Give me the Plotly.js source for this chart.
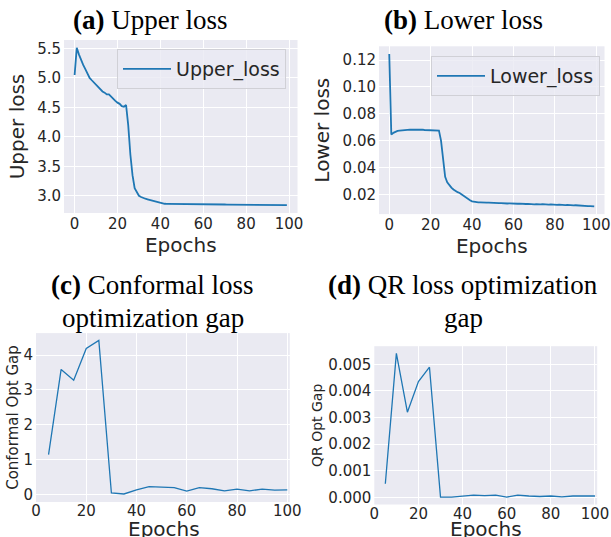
<!DOCTYPE html>
<html>
<head>
<meta charset="utf-8">
<script src="https://cdn.plot.ly/plotly-3.0.1.min.js"></script>
<style>html,body{margin:0;padding:0;background:#fff;}#chart{width:611px;height:537px;}</style>
</head>
<body>
<div id="chart"></div>
<script>
// ---- data ----
const epochs = [0,1,2,3,4,5,6,7,8,9,10,11,12,13,14,15,16,17,18,19,20,21,22,23,24,25,26,27,28,29,30,31,32,33,34,35,36,37,38,39,40,41,42,43,44,45,46,47,48,49,50,51,52,53,54,55,56,57,58,59,60,61,62,63,64,65,66,67,68,69,70,71,72,73,74,75,76,77,78,79,80,81,82,83,84,85,86,87,88,89,90,91,92,93,94,95,96,97,98,99];
const upperLoss = [5.05,5.51,5.40,5.30,5.22,5.15,5.07,5.00,4.96,4.92,4.88,4.84,4.81,4.77,4.75,4.72,4.72,4.68,4.64,4.61,4.58,4.56,4.52,4.51,4.54,4.20,3.70,3.35,3.13,3.05,3.00,2.98,2.96,2.95,2.94,2.93,2.92,2.91,2.90,2.89,2.88,2.87,2.865,2.864,2.864,2.863,2.863,2.862,2.862,2.861,2.861,2.860,2.860,2.859,2.859,2.858,2.858,2.857,2.857,2.856,2.856,2.855,2.855,2.855,2.854,2.854,2.853,2.853,2.853,2.852,2.852,2.851,2.851,2.851,2.850,2.850,2.850,2.849,2.849,2.849,2.848,2.848,2.848,2.847,2.847,2.847,2.846,2.846,2.846,2.845,2.845,2.845,2.844,2.844,2.844,2.843,2.843,2.842,2.842,2.841];
const lowerLoss = [0.1245,0.0645,0.0658,0.0666,0.0672,0.0675,0.0677,0.0678,0.0680,0.0681,0.0682,0.0681,0.0682,0.0681,0.0682,0.0680,0.0681,0.0679,0.0678,0.0677,0.0675,0.0676,0.0674,0.0675,0.0674,0.0600,0.0450,0.0330,0.0290,0.0268,0.0250,0.0236,0.0224,0.0216,0.0210,0.0198,0.0186,0.0176,0.0165,0.0156,0.0148,0.0144,0.0142,0.0140,0.0141,0.0139,0.0140,0.0138,0.0139,0.0137,0.0136,0.0137,0.0135,0.0134,0.0135,0.0133,0.0134,0.0132,0.0133,0.0131,0.0132,0.0131,0.0130,0.0131,0.0129,0.0130,0.0128,0.0129,0.0127,0.0128,0.0126,0.0127,0.0125,0.0126,0.0127,0.0125,0.0126,0.0124,0.0125,0.0123,0.0124,0.0122,0.0123,0.0121,0.0122,0.0120,0.0121,0.0119,0.0120,0.0118,0.0119,0.0117,0.0118,0.0115,0.0116,0.0114,0.0112,0.0113,0.0111,0.0110];
const gapEpochs = [5,10,15,20,25,30,35,40,45,50,55,60,65,70,75,80,85,90,95,100];
const conformalGap = [1.15,3.59,3.28,4.19,4.42,0.05,0.02,0.14,0.23,0.21,0.20,0.10,0.20,0.17,0.11,0.16,0.11,0.16,0.13,0.14];
const qrGap = [0.00051,0.00541,0.00320,0.00435,0.00489,0.000005,0.000005,0.00003,0.00008,0.00006,0.00008,0.00001,0.00008,0.00005,0.00003,0.00005,0.00002,0.00005,0.00004,0.00005];
const xTicks = [0,20,40,60,80,100];
const upperTicks = [3.0,3.5,4.0,4.5,5.0,5.5];
const lowerTicks = [0.02,0.04,0.06,0.08,0.10,0.12];
const conformalTicks = [0,1,2,3,4];
const qrTicks = [0,0.001,0.002,0.003,0.004,0.005];

// ---- style ----
const W = 611, H = 537;
const LINE = '#1f77b4';
const TXT = '#262626';
const SANS = 'DejaVu Sans';
const SERIF = 'Liberation Serif';
const px = (a,b) => [a/W, b/W];
const py = (top,bottom) => [1-bottom/H, 1-top/H];

function xax(domain, anchor, range, title, titleStandoff, labelStandoff){
  return {domain, anchor, range, tickvals: xTicks, ticks:'', showline:false, zeroline:false,
    gridcolor:'#ffffff', gridwidth:1, tickfont:{family:SANS,size:15,color:TXT},
    ticklabelstandoff:labelStandoff,
    title:{text:title, font:{family:SANS,size:20,color:TXT}, standoff:titleStandoff}};
}
function yax(domain, anchor, range, tickvals, fmt, title, tsize, standoff){
  return {domain, anchor, range, tickvals, tickformat:fmt, ticks:'', showline:false, zeroline:false,
    gridcolor:'#ffffff', gridwidth:1, tickfont:{family:SANS,size:15,color:TXT},
    ticklabelstandoff:2,
    title:{text:title, font:{family:SANS,size:tsize,color:TXT}, standoff}};
}

const traces = [
  {x:epochs, y:upperLoss, xaxis:'x', yaxis:'y', type:'scatter', mode:'lines', name:'Upper_loss',
   line:{color:LINE,width:1.8}, legend:'legend'},
  {x:epochs, y:lowerLoss, xaxis:'x2', yaxis:'y2', type:'scatter', mode:'lines', name:'Lower_loss',
   line:{color:LINE,width:1.8}, legend:'legend2'},
  {x:gapEpochs, y:conformalGap, xaxis:'x3', yaxis:'y3', type:'scatter', mode:'lines', name:'Conformal Opt Gap',
   line:{color:LINE,width:1.3}, showlegend:false},
  {x:gapEpochs, y:qrGap, xaxis:'x4', yaxis:'y4', type:'scatter', mode:'lines', name:'QR Opt Gap',
   line:{color:LINE,width:1.3}, showlegend:false}
];

const legendStyle = {bgcolor:'rgba(234,234,242,0.8)', bordercolor:'#d0d0d6', borderwidth:1,
  font:{family:SANS,size:19,color:TXT}, xanchor:'left', yanchor:'top', itemwidth:48};

const titleFont = {family:SERIF, size:27, color:'#000000'};
function ann(text, x, y){
  return {text, x:x/W, y:1-y/H, xref:'paper', yref:'paper', xanchor:'center', yanchor:'middle',
    showarrow:false, font:titleFont};
}
// bottom-row x-axis titles: partly cut by the figure edge, as in the reference
function epochsLabel(x, top){
  return {text:'Epochs', x:x/W, y:1-top/H, xref:'paper', yref:'paper', xanchor:'center', yanchor:'top',
    showarrow:false, font:{family:SANS,size:20,color:TXT}};
}

const layout = {
  width:W, height:H, margin:{l:0,r:0,t:0,b:0},
  paper_bgcolor:'#ffffff', plot_bgcolor:'#EAEAF2',
  xaxis: xax(px(64,297.5), 'y', [-4.95,103.95], 'Epochs', 3, 0),
  yaxis: yax(py(40,213), 'x', [2.708,5.643], upperTicks, '.1f', 'Upper loss', 20, 7),
  xaxis2: xax(px(379,604.5), 'y2', [-4.95,103.95], 'Epochs', 3, 0),
  yaxis2: yax(py(46.3,214.1), 'x2', [0.0053,0.1302], lowerTicks, '.2f', 'Lower loss', 20, 7),
  xaxis3: xax(px(36,289.8), 'y3', [0,101], '', 0, -2),
  yaxis3: yax(py(333.1,502), 'x3', [-0.21,4.63], conformalTicks, 'd', 'Conformal Opt Gap', 15, 1),
  xaxis4: xax(px(374.3,597.2), 'y4', [0,101], '', 0, -2),
  yaxis4: yax(py(346.2,504.5), 'x4', [-0.00027,0.00568], qrTicks, '.3f', 'QR Opt Gap', 14, 2),
  legend: Object.assign({x:117/W, y:1-49/H}, legendStyle),
  legend2: Object.assign({x:431/W, y:1-56/H}, legendStyle),
  annotations:[
    ann('<b>(a)</b> Upper loss', 150, 20),
    ann('<b>(b)</b> Lower loss', 463, 20),
    ann('<b>(c)</b> Conformal loss', 152, 285),
    ann('optimization gap', 153, 318),
    ann('<b>(d)</b> QR loss optimization', 463, 285),
    ann('gap', 463, 318),
    epochsLabel(163.5, 515),
    epochsLabel(486, 515)
  ]
};

Plotly.newPlot('chart', traces, layout, {staticPlot:true, displayModeBar:false});
</script>
</body>
</html>
